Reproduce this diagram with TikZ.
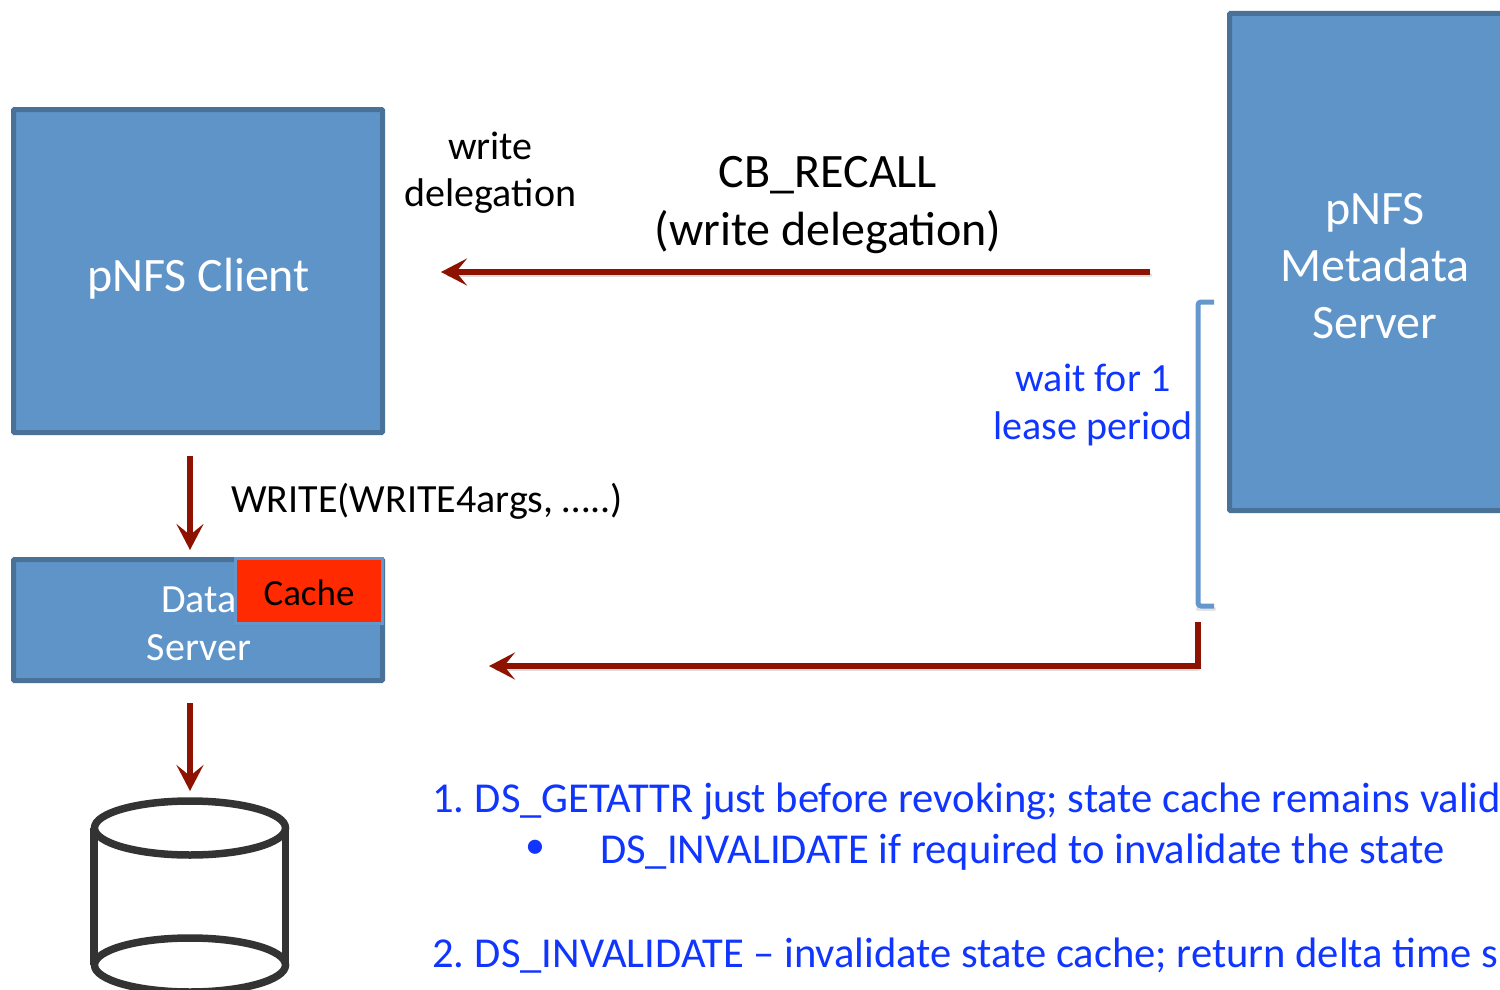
\documentclass[tikz,border=0pt]{standalone}
\usepackage{fontspec}
\setmainfont{Carlito}
\usetikzlibrary{arrows.meta,shadows}
\definecolor{boxfill}{HTML}{5F94C9}
\definecolor{boxline}{HTML}{4A7299}
\definecolor{arrowred}{HTML}{8E1200}
\definecolor{txtblue}{HTML}{0F35FF}
\definecolor{cachered}{HTML}{FF2A00}
\definecolor{cyl}{HTML}{333333}
\definecolor{brk}{HTML}{6497CB}
\tikzset{
  x=1pt,y=-1pt,
  bluebox/.style={draw=boxline,fill=boxfill,line width=5pt,rounded corners=1pt,inner sep=0pt,anchor=north west,text=white,align=center},
  flow/.style={draw=arrowred,line width=5.6pt,-{Stealth[length=26pt,width=27pt,inset=11pt]}},
  lbl/.style 2 args={font=\fontsize{#1}{#2}\selectfont,inner sep=0pt,align=center},
  softshadow/.style={draw=black!22,line width=4pt,line cap=round},
}
\begin{document}
\begin{tikzpicture}
\useasboundingbox (0,0) rectangle (1500,990);
\clip (0,0) rectangle (1500,990);
% boxes
\node[bluebox,minimum width=369pt,minimum height=323pt] (client) at (11,107) {};
\node[lbl={48}{58},text=white] (clienttext) at (198.5,278.5) {pNFS Client};
\node[bluebox,minimum width=300pt,minimum height=497pt] (mds) at (1227,11) {};
\node[lbl={48}{57},text=white] (mdstext) at (1375,266.5) {pNFS\\Metadata\\Server};
\node[bluebox,minimum width=369pt,minimum height=121pt] (ds) at (11,557) {};
\node[lbl={40}{47.5},text=white] (dstext) at (199,624) {Data\\Server};
\node[draw=brk,fill=cachered,line width=3pt,minimum width=147pt,minimum height=65pt,inner sep=0pt,anchor=north west,drop shadow={shadow xshift=0pt,shadow yshift=-2.5pt,opacity=.35}] (cache) at (234,557) {};
\node[lbl={37}{47},text=black] (cachetext) at (309,593) {Cache};
% labels
\node[lbl={40}{47},text=black] (wd) at (490.5,173) {write\\delegation};
\node[lbl={48}{58},text=black] (cb) at (828,205) {CB\_RECALL\\(write delegation)};
\node[lbl={40}{47},text=black,anchor=west] (wr) at (231,501) {WRITE(WRITE4args, …..)};
\node[lbl={40}{48},text=txtblue] (wait) at (1093,405) {wait for 1\\lease period};
\node[lbl={42.6}{50},text=txtblue,anchor=base west] (l1) at (432,812) {1.\kern-2.5pt{} DS\_GETATTR just before revoking; state cache remains valid};
\node[lbl={40}{48},text=txtblue,anchor=base] (bul) at (535,858) {•};
\node[lbl={42.6}{50},text=txtblue,anchor=base west] (l2) at (600,863) {DS\_INVALIDATE if required to invalidate the state};
\node[lbl={42.6}{50},text=txtblue,anchor=base west] (l3) at (432,967) {2.\kern-2.5pt{} DS\_INVALIDATE – invalidate state cache; return delta time s};
% anchors of the connectors
\coordinate (a1s) at (1150,272);
\coordinate (a1e) at (441,272);
\coordinate (a2s) at (190,456);
\coordinate (a2e) at (190,550);
\coordinate (a3s) at (190,703);
\coordinate (a3e) at (190,791);
\coordinate (a4s) at (1198,622);
\coordinate (a4c) at (1198,666);
\coordinate (a4e) at (489,666);
\coordinate (bt) at (1214,302);
\coordinate (btc) at (1198,302);
\coordinate (bbc) at (1198,606);
\coordinate (bb) at (1214,606);
% soft shadows
\draw[softshadow,opacity=.6] ([yshift=-3pt]a1s) -- ([xshift=8pt,yshift=-3pt]a1e);
\draw[softshadow,opacity=.6] ([yshift=-3pt]a4c) -- ([xshift=8pt,yshift=-3pt]a4e);
\draw[softshadow,opacity=.5,rounded corners=3pt] ([yshift=-3pt]bbc) -- ([yshift=-3pt]bb);
% connectors
\draw[flow] (a1s) -- (a1e);
\draw[flow] (a2s) -- (a2e);
\draw[flow] (a3s) -- (a3e);
\draw[flow] (a4s) -- (a4c) -- (a4e);
\draw[draw=brk,line width=5pt,rounded corners=3pt] (bt) -- (btc) -- (bbc) -- (bb);
% disk
\draw[cyl,line width=7.5pt,line join=round] (94,828) -- (94,965);
\draw[cyl,line width=7.5pt,line join=round] (285.5,828) -- (285.5,965);
\draw[cyl,line width=7.5pt] (190,828) ellipse [x radius=95.5,y radius=27];
\draw[cyl,line width=7.5pt] (190,965) ellipse [x radius=95.5,y radius=27];
\end{tikzpicture}
\end{document}
